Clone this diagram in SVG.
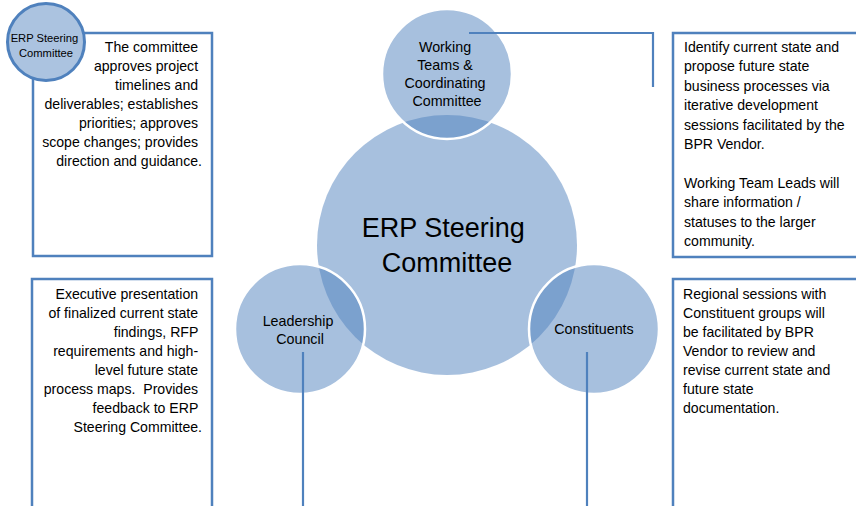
<svg xmlns="http://www.w3.org/2000/svg" width="856" height="506" viewBox="0 0 856 506">
  <style>
    text { font-family: "Liberation Sans", Arial, sans-serif; fill: #000; }
    .box { fill: #fff; stroke: #4f81bd; stroke-width: 2.5; }
    .body { font-size: 14.1px; }
    .right { text-anchor: end; }
    .mid { text-anchor: middle; }
    .hub { fill: #4f81bd; fill-opacity: 0.5; }
    .sat { fill: #4f81bd; fill-opacity: 0.5; stroke: #fff; stroke-width: 2.5; }
    .conn { fill: none; stroke: #4f81bd; stroke-width: 2.2; }
    .satlabel { font-size: 14.3px; text-anchor: middle; }
  </style>

  <!-- description boxes -->
  <g id="box-steering">
    <rect class="box" x="33" y="33" width="179" height="223"/>
    <text class="body right">
      <tspan x="202" y="52">The committee</tspan>
      <tspan x="202" y="71">approves project</tspan>
      <tspan x="202" y="90">timelines and</tspan>
      <tspan x="202" y="109">deliverables; establishes</tspan>
      <tspan x="202" y="128">priorities; approves</tspan>
      <tspan x="202" y="147">scope changes; provides</tspan>
      <tspan x="202" y="166">direction and guidance.</tspan>
    </text>
  </g>

  <g id="badge-steering">
    <circle cx="46" cy="42" r="38.5" fill="#abc3e0" stroke="#4f81bd" stroke-width="3"/>
    <text class="mid" font-size="11.2">
      <tspan x="46" y="42">ERP Steering</tspan>
      <tspan x="46" y="57">Committee</tspan>
    </text>
  </g>

  <g id="box-working">
    <rect class="box" x="673" y="33" width="200" height="224"/>
    <text class="body">
      <tspan x="684" y="52">Identify current state and</tspan>
      <tspan x="684" y="71.4">propose future state</tspan>
      <tspan x="684" y="90.8">business processes via</tspan>
      <tspan x="684" y="110.2">iterative development</tspan>
      <tspan x="684" y="129.6">sessions facilitated by the</tspan>
      <tspan x="684" y="149">BPR Vendor.</tspan>
      <tspan x="684" y="187.8">Working Team Leads will</tspan>
      <tspan x="684" y="207.2">share information /</tspan>
      <tspan x="684" y="226.6">statuses to the larger</tspan>
      <tspan x="684" y="246">community.</tspan>
    </text>
  </g>

  <g id="box-leadership">
    <rect class="box" x="32" y="279" width="180" height="250"/>
    <text class="body right">
      <tspan x="202" y="299">Executive presentation</tspan>
      <tspan x="202" y="318">of finalized current state</tspan>
      <tspan x="202" y="337">findings, RFP</tspan>
      <tspan x="202" y="356">requirements and high-</tspan>
      <tspan x="202" y="375">level future state</tspan>
      <tspan x="202" y="394">process maps.&#160; Provides</tspan>
      <tspan x="202" y="413">feedback to ERP</tspan>
      <tspan x="202" y="432">Steering Committee.</tspan>
    </text>
  </g>

  <g id="box-constituents">
    <rect class="box" x="673" y="279" width="200" height="250"/>
    <text class="body">
      <tspan x="683" y="299">Regional sessions with</tspan>
      <tspan x="683" y="318">Constituent groups will</tspan>
      <tspan x="683" y="337">be facilitated by BPR</tspan>
      <tspan x="683" y="356">Vendor to review and</tspan>
      <tspan x="683" y="375">revise current state and</tspan>
      <tspan x="683" y="394">future state</tspan>
      <tspan x="683" y="413">documentation.</tspan>
    </text>
  </g>

  <!-- radial cluster -->
  <g id="hub">
    <circle class="hub" cx="447" cy="245" r="130"/>
    <text class="mid" font-size="27">
      <tspan x="447" y="237">ERP Steering</tspan>
      <tspan x="447" y="272">Committee</tspan>
    </text>
  </g>

  <g id="node-working">
    <circle class="sat" cx="447" cy="74" r="65"/>
    <text class="satlabel">
      <tspan x="447" y="52">Working</tspan>
      <tspan x="447" y="70">Teams &amp;</tspan>
      <tspan x="447" y="88">Coordinating</tspan>
      <tspan x="447" y="106">Committee</tspan>
    </text>
  </g>

  <g id="node-leadership">
    <circle class="sat" cx="300" cy="329" r="65"/>
    <text class="satlabel">
      <tspan x="300" y="326">Leadership</tspan>
      <tspan x="300" y="344">Council</tspan>
    </text>
  </g>

  <g id="node-constituents">
    <circle class="sat" cx="594" cy="329" r="65"/>
    <text class="satlabel">
      <tspan x="594" y="334">Constituents</tspan>
    </text>
  </g>

  <!-- leader lines from each circle to its box -->
  <g id="connectors">
    <polyline class="conn" points="469,33 653,33 653,87"/>
    <line class="conn" x1="303" y1="352" x2="303" y2="506"/>
    <line class="conn" x1="587" y1="352" x2="587" y2="506"/>
  </g>
</svg>
